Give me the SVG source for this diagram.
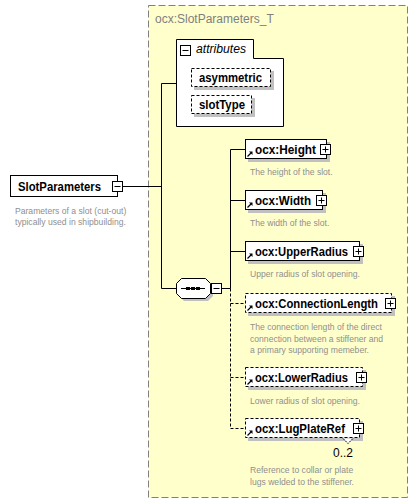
<svg xmlns="http://www.w3.org/2000/svg" width="419" height="504" viewBox="0 0 419 504">
  <defs>
    <style>
      .frame { fill: #ffffcc; stroke: #808080; stroke-width: 1; stroke-dasharray: 7 3; }
      .title { font-family: "Liberation Sans", Arial, sans-serif; font-size: 12px; fill: #808080; }
      .box { fill: #ffffff; stroke: #000000; stroke-width: 1; }
      .opt { fill: #ffffff; stroke: #000000; stroke-width: 1; stroke-dasharray: 3 2; }
      .shadow { fill: #c0c0c0; }
      .name { font-family: "Liberation Sans", Arial, sans-serif; font-size: 12px; font-weight: bold; fill: #000000; }
      .ital { font-family: "Liberation Sans", Arial, sans-serif; font-size: 12px; font-style: italic; fill: #000000; }
      .desc { font-family: "Liberation Sans", Arial, sans-serif; font-size: 8.6px; fill: #8f8f8f; }
      .occ { font-family: "Liberation Sans", Arial, sans-serif; font-size: 12px; fill: #000000; }
      .wire { fill: none; stroke: #000000; stroke-width: 1; }
      .wire-opt { fill: none; stroke: #000000; stroke-width: 1; stroke-dasharray: 3 2; }
      .toggle { fill: #ffffff; stroke: #000000; stroke-width: 1; }
    </style>
    <!-- collapse / expand toggles -->
    <g id="minus">
      <rect class="toggle" x="0" y="0" width="10" height="10"/>
      <path d="M2 5 H8" stroke="#000" stroke-width="1"/>
    </g>
    <g id="plus">
      <rect class="toggle" x="0" y="0" width="10" height="10"/>
      <path d="M2 5 H8 M5 2 V8" stroke="#000" stroke-width="1"/>
    </g>
    <!-- reference arrow in the lower-left corner of element boxes -->
    <g id="ref">
      <path d="M0.5 5.5 L4 2" stroke="#000" stroke-width="1.3" fill="none"/>
      <path d="M2 0.5 L5.5 0.5 L5.5 4 Z" fill="#000"/>
    </g>
  </defs>

  <!-- complex type frame -->
  <g id="type-frame">
    <rect class="frame" x="148.5" y="5.5" width="259" height="492"/>
    <text class="title" x="155" y="23">ocx:SlotParameters_T</text>
  </g>

  <!-- connectors -->
  <g id="connectors">
    <path class="wire" d="M122 186.5 H161.5"/>
    <path class="wire" d="M161.5 83.5 V288.5"/>
    <path class="wire" d="M161.5 83.5 H176"/>
    <path class="wire" d="M161.5 288.5 H176"/>
    <path class="wire" d="M221 288.5 H230.5"/>
    <path class="wire" d="M230.5 149.5 V288.5"/>
    <path class="wire-opt" d="M230.5 288.5 V428.5"/>
    <path class="wire" d="M230.5 149.5 H245"/>
    <path class="wire" d="M230.5 200.5 H245"/>
    <path class="wire" d="M230.5 251.5 H245"/>
    <path class="wire-opt" d="M230.5 303.5 H245"/>
    <path class="wire-opt" d="M230.5 377.5 H245"/>
    <path class="wire-opt" d="M230.5 428.5 H245"/>
  </g>

  <!-- root element -->
  <g id="node-SlotParameters">
    <rect class="box" x="10.5" y="175.5" width="107" height="21"/>
    <text class="name" x="18" y="191" textLength="83" lengthAdjust="spacingAndGlyphs">SlotParameters</text>
    <use href="#minus" x="112.5" y="181.5"/>
    <text class="desc" x="15" y="214">Parameters of a slot (cut-out)</text>
    <text class="desc" x="15" y="225">typically used in shipbuilding.</text>
  </g>

  <!-- attributes group -->
  <g id="node-attributes">
    <path class="box" d="M176.5 39.5 H253.5 V58.5 H283.5 V126.5 H176.5 Z"/>
    <use href="#minus" x="180.5" y="45.5"/>
    <text class="ital" x="196" y="53" textLength="50" lengthAdjust="spacingAndGlyphs">attributes</text>
  </g>
  <g id="node-asymmetric">
    <rect class="shadow" x="194" y="71" width="80" height="19"/>
    <rect class="opt" x="191.5" y="68.5" width="79" height="18"/>
    <text class="name" x="199" y="82" textLength="63" lengthAdjust="spacingAndGlyphs">asymmetric</text>
  </g>
  <g id="node-slotType">
    <rect class="shadow" x="194" y="98" width="61" height="19"/>
    <rect class="opt" x="191.5" y="95.5" width="60" height="18"/>
    <text class="name" x="199" y="109" textLength="46" lengthAdjust="spacingAndGlyphs">slotType</text>
  </g>

  <!-- sequence compositor -->
  <g id="node-sequence">
    <polygon class="shadow" points="184,281 208,281 213,286 213,296 208,301 184,301 179,296 179,286"/>
    <polygon class="box" points="181.5,278.5 205.5,278.5 210.5,283.5 210.5,293.5 205.5,298.5 181.5,298.5 176.5,293.5 176.5,283.5"/>
    <path d="M181 288.5 H205" stroke="#000" stroke-width="1"/>
    <rect x="186" y="287" width="4" height="3" fill="#000"/>
    <rect x="191" y="287" width="4" height="3" fill="#000"/>
    <rect x="196" y="287" width="4" height="3" fill="#000"/>
    <use href="#minus" x="211.5" y="283.5"/>
  </g>

  <!-- child elements -->
  <g id="node-Height">
    <rect class="shadow" x="248" y="142" width="82" height="20"/>
    <rect class="box" x="245.5" y="139.5" width="81" height="19"/>
    <use href="#ref" x="247" y="151"/>
    <text class="name" x="255" y="154" textLength="61" lengthAdjust="spacingAndGlyphs">ocx:Height</text>
    <use href="#plus" x="320.5" y="144.5"/>
    <text class="desc" x="250" y="175">The height of the slot.</text>
  </g>

  <g id="node-Width">
    <rect class="shadow" x="248" y="193" width="78" height="20"/>
    <rect class="box" x="245.5" y="190.5" width="77" height="19"/>
    <use href="#ref" x="247" y="202"/>
    <text class="name" x="255" y="205" textLength="56" lengthAdjust="spacingAndGlyphs">ocx:Width</text>
    <use href="#plus" x="316.5" y="195.5"/>
    <text class="desc" x="250" y="226">The width of the slot.</text>
  </g>

  <g id="node-UpperRadius">
    <rect class="shadow" x="248" y="244" width="115" height="20"/>
    <rect class="box" x="245.5" y="241.5" width="114" height="19"/>
    <use href="#ref" x="247" y="253"/>
    <text class="name" x="255" y="256" textLength="93" lengthAdjust="spacingAndGlyphs">ocx:UpperRadius</text>
    <use href="#plus" x="353.5" y="246.5"/>
    <text class="desc" x="250" y="277">Upper radius of slot opening.</text>
  </g>

  <g id="node-ConnectionLength">
    <rect class="shadow" x="248" y="296" width="147" height="20"/>
    <rect class="opt" x="245.5" y="293.5" width="146" height="19"/>
    <use href="#ref" x="247" y="305"/>
    <text class="name" x="255" y="308" textLength="123" lengthAdjust="spacingAndGlyphs">ocx:ConnectionLength</text>
    <use href="#plus" x="385.5" y="298.5"/>
    <text class="desc" x="250" y="330">The connection length of the direct</text>
    <text class="desc" x="250" y="342">connection between a stiffener and</text>
    <text class="desc" x="250" y="353">a primary supporting memeber.</text>
  </g>

  <g id="node-LowerRadius">
    <rect class="shadow" x="248" y="370" width="118" height="20"/>
    <rect class="opt" x="245.5" y="367.5" width="117" height="19"/>
    <use href="#ref" x="247" y="379"/>
    <text class="name" x="255" y="382" textLength="93" lengthAdjust="spacingAndGlyphs">ocx:LowerRadius</text>
    <use href="#plus" x="356.5" y="372.5"/>
    <text class="desc" x="250" y="404">Lower radius of slot opening.</text>
  </g>

  <g id="node-LugPlateRef">
    <rect class="shadow" x="248" y="421" width="115" height="20"/>
    <rect class="opt" x="245.5" y="418.5" width="114" height="19"/>
    <use href="#ref" x="247" y="430"/>
    <text class="name" x="255" y="433" textLength="90" lengthAdjust="spacingAndGlyphs">ocx:LugPlateRef</text>
    <use href="#plus" x="353.5" y="423.5"/>
    <path d="M343 438.5 L348 443.5 L353 438.5" fill="#ffffff" stroke="#000" stroke-width="1" stroke-dasharray="2 1"/>
    <text class="occ" x="333" y="457">0..2</text>
    <text class="desc" x="250" y="473">Reference to collar or plate</text>
    <text class="desc" x="250" y="485">lugs welded to the stiffener.</text>
  </g>
</svg>
